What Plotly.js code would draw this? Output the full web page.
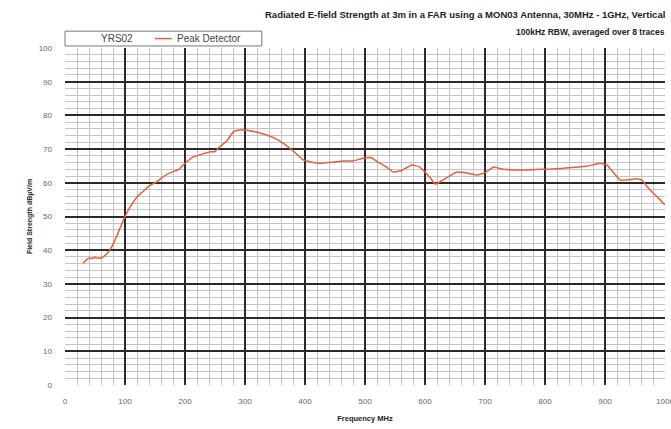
<!DOCTYPE html>
<html>
<head>
<meta charset="utf-8">
<script src="https://cdn.plot.ly/plotly-3.0.1.min.js"></script>
<style>html,body{margin:0;padding:0;background:#fff;}#chart{width:671px;height:429px;}</style>
</head>
<body>
<div id="chart"></div>
<script>
const freqMHz = [30,35,40,45,50,55,60,65,70,75,80,86,90,100,110,120,130,140,153,160,170,180,190,200,214,225,242,250,258,270,281,290,303,320,336,350,364,380,397,410,425,440,460,480,497,510,520,535,547,560,578,590,600,610,617,630,653,670,687,700,714,730,750,770,790,810,830,850,870,892,903,915,925,940,953,962,970,980,990,1000];
const peakDetector = [36.2,37.0,37.7,37.5,37.9,37.6,37.7,38.2,39.0,40.0,41.8,44.0,45.8,50.0,53.2,55.8,57.4,59.0,60.3,61.3,62.5,63.3,64.0,65.8,67.7,68.3,69.2,69.3,70.7,72.5,75.2,75.7,75.6,75.0,74.2,73.2,71.7,69.5,66.8,66.2,65.8,66.0,66.4,66.5,67.3,67.5,66.3,64.8,63.2,63.6,65.3,64.8,63.2,61.2,59.6,60.8,63.2,62.9,62.3,63.0,64.7,64.0,63.8,63.8,64.0,64.1,64.3,64.6,64.9,65.8,65.3,62.8,60.8,60.9,61.2,60.8,58.9,57.0,55.3,53.4];
const seriesName = 'Peak Detector';
const legendTitle = 'YRS02';
const titleLine1 = 'Radiated E-field Strength at 3m in a FAR using a MON03 Antenna, 30MHz - 1GHz, Vertical';
const titleLine2 = '100kHz RBW, averaged over 8 traces';
const xTitle = 'Frequency MHz';
const yTitle = 'Field Strength dBµV/m';
const lineColor = '#e4603a';

const trace = {
  x: freqMHz, y: peakDetector, type: 'scatter', mode: 'lines', name: seriesName, showlegend: false,
  line: {color: lineColor, width: 1.5, shape: 'spline', smoothing: 0.3}
};
const layout = {
  width: 671, height: 429,
  margin: {l: 65, r: 6, t: 48, b: 44},
  paper_bgcolor: '#fff', plot_bgcolor: '#fff',
  font: {family: 'Liberation Sans, Arial, sans-serif', color: '#333'},
  showlegend: false,
  xaxis: {
    range: [0, 1000], dtick: 100, tick0: 0, showgrid: true, gridcolor: '#2a2a2a', gridwidth: 2,
    zeroline: false, showline: false, ticks: '', ticklabeloverflow: 'allow', ticklabelstandoff: 10,
    tickfont: {size: 8, color: '#666'},
    title: {text: '<b>' + xTitle + '</b>', font: {size: 7.5, color: '#222'}, standoff: 10},
    minor: {dtick: 20, showgrid: true, gridcolor: '#c4c4c4', gridwidth: 1}
  },
  yaxis: {
    range: [0, 100], dtick: 10, tick0: 0, showgrid: true, gridcolor: '#2a2a2a', gridwidth: 2,
    zeroline: false, showline: false, ticks: '', ticklabelstandoff: 12,
    tickfont: {size: 8, color: '#666'},
    title: {text: '<b>' + yTitle + '</b>', font: {size: 7, color: '#222'}, standoff: 5},
    minor: {dtick: 2, showgrid: true, gridcolor: '#c4c4c4', gridwidth: 1}
  },
  shapes: [
    {type: 'rect', xref: 'paper', yref: 'paper', x0: 0, x1: 0.328, y0: 1.006, y1: 1.050, line: {color: '#777', width: 1}, fillcolor: '#fff'},
    {type: 'line', xref: 'paper', yref: 'paper', x0: 0.15, x1: 0.178, y0: 1.028, y1: 1.028, line: {color: lineColor, width: 1.5}}
  ],
  annotations: [
    {text: '<b>' + titleLine1 + '</b>', xref: 'paper', yref: 'paper', x: 1.0, y: 1.0, yshift: 34, xshift: 2, xanchor: 'right', yanchor: 'middle', showarrow: false, font: {size: 9.5, color: '#222'}},
    {text: '<b>' + titleLine2 + '</b>', xref: 'paper', yref: 'paper', x: 1.0, y: 1.0, yshift: 16, xshift: 2, xanchor: 'right', yanchor: 'middle', showarrow: false, font: {size: 8.5, color: '#222'}},
    {text: legendTitle, xref: 'paper', yref: 'paper', x: 0.087, y: 1.028, xanchor: 'center', yanchor: 'middle', showarrow: false, font: {size: 10, color: '#444'}},
    {text: seriesName, xref: 'paper', yref: 'paper', x: 0.183, y: 1.028, xanchor: 'left', yanchor: 'middle', showarrow: false, font: {size: 10, color: '#444'}}
  ]
};
Plotly.newPlot('chart', [trace], layout, {displayModeBar: false, staticPlot: true});
</script>
</body>
</html>
